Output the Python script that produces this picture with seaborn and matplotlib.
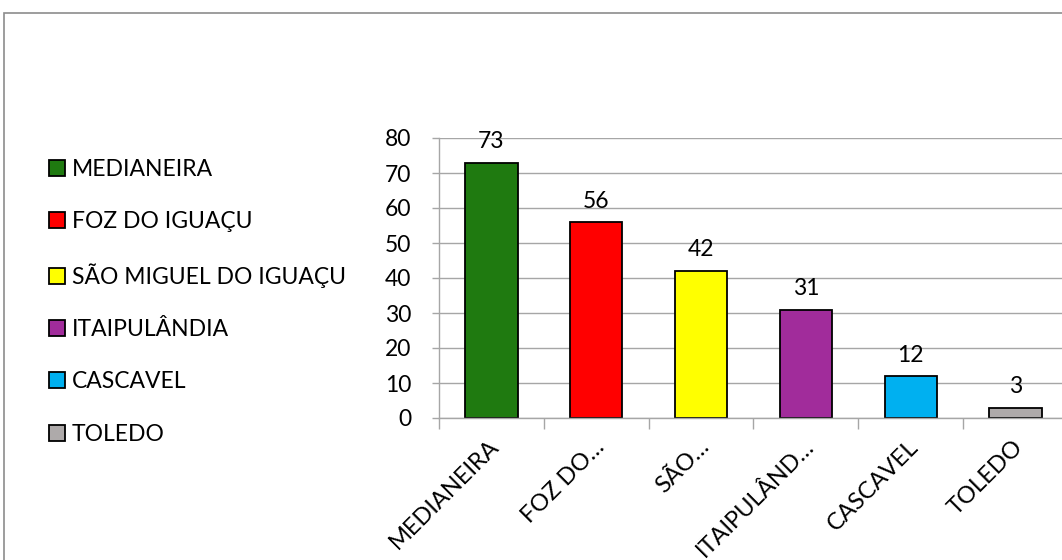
import matplotlib
matplotlib.use("Agg")
import matplotlib.pyplot as plt
import matplotlib.transforms as mtransforms
from matplotlib.patches import Rectangle, Patch
import seaborn as sns
import pandas as pd

# Data
cities = ["MEDIANEIRA", "FOZ DO IGUAÇU", "SÃO MIGUEL DO IGUAÇU",
          "ITAIPULÂNDIA", "CASCAVEL", "TOLEDO"]
tick_labels = ["MEDIANEIRA", "FOZ DO…", "SÃO…", "ITAIPULÂND…", "CASCAVEL", "TOLEDO"]
counts = [73, 56, 42, 31, 12, 3]
colors = ["#1F7A10", "#FF0000", "#FFFF00", "#A12C9B", "#00B0F0", "#AEAAAA"]

df = pd.DataFrame({"cidade": cities, "total": counts})

sns.set_theme(style="white")
plt.rcParams["font.family"] = ["Lato", "DejaVu Sans"]
plt.rcParams["text.color"] = "black"
FS = 16.5

W, H = 1062, 560
fig = plt.figure(figsize=(W / 100, H / 100), dpi=100)
fig.patch.set_facecolor("white")

# outer chart frame (continues past the right and bottom edges)
fig.patches.append(Rectangle((4 / W, -0.05), 1.2, 1 - 13 / H + 0.05,
                             transform=fig.transFigure, fill=False,
                             edgecolor="#8C8C8C", linewidth=1.2))

ax = fig.add_axes([439 / W, 1 - 418 / H, 629 / W, 280 / H])
sns.barplot(data=df, x="cidade", y="total", hue="cidade", palette=colors,
            width=0.5, edgecolor="black", linewidth=1.3, legend=False,
            ax=ax, saturation=1)

ax.set_ylim(0, 80)
ax.set_xlim(-0.5, 5.5)
ax.set_yticks(range(0, 81, 10))
ax.yaxis.grid(True, color="#A6A6A6", linewidth=1)
ax.set_axisbelow(True)
for s in ["top", "right"]:
    ax.spines[s].set_visible(False)
for s in ["left", "bottom"]:
    ax.spines[s].set_color("#A6A6A6")
    ax.spines[s].set_linewidth(1)
ax.set_xlabel("")
ax.set_ylabel("")

# category boundaries carry the tick marks, centres carry the labels
ax.set_xticks([i - 0.5 for i in range(len(cities) + 1)])
ax.set_xticklabels([])
ax.set_xticks(range(len(cities)), minor=True)
ax.set_xticklabels(tick_labels, minor=True, rotation=45, ha="right",
                   rotation_mode="anchor", fontsize=17)
ax.tick_params(axis="x", which="major", direction="out", length=8,
               color="#A6A6A6", width=1, bottom=True)
ax.tick_params(axis="x", which="minor", length=0, pad=13,
               labelcolor="black")
shift = mtransforms.ScaledTranslation(-3 / 100, 0, fig.dpi_scale_trans)
for lbl in ax.get_xticklabels(minor=True):
    lbl.set_transform(lbl.get_transform() + shift)
ax.tick_params(axis="y", direction="out", length=5, color="#A6A6A6",
               width=1, left=True, labelsize=FS, pad=15, labelcolor="black")

for i, v in enumerate(counts):
    ax.text(i, v + 3.0, str(v), ha="center", va="bottom", fontsize=FS,
            color="black")

handles = [Patch(facecolor=c, edgecolor="black", linewidth=1.3)
           for c in colors]
fig.legend(handles, cities, loc="upper left",
           bbox_to_anchor=(40 / W, 1 - 150 / H), frameon=False,
           fontsize=FS, handlelength=0.7, handleheight=0.7,
           handletextpad=0.3, labelspacing=1.36, borderaxespad=0,
           labelcolor="black")

fig.savefig("out.png", dpi=100)
